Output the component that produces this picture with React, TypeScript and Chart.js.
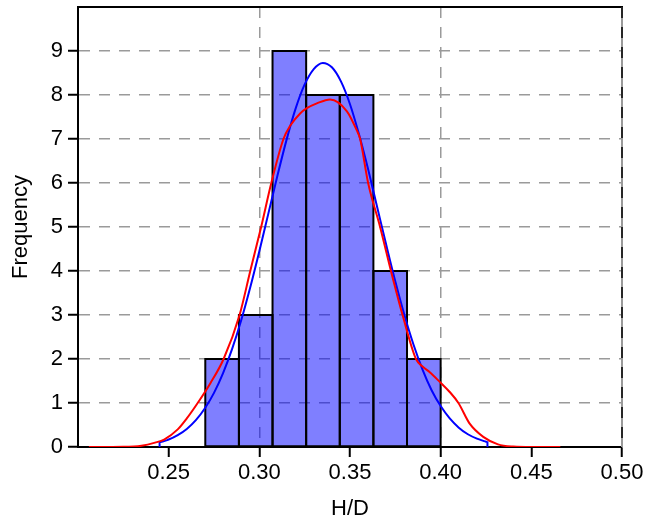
import React, { useEffect, useRef } from 'react';
import { Chart, registerables } from 'chart.js';

Chart.register(...registerables);

// Histogram bins (centers of equal-width bins) and counts
const binCenters = [0.27947, 0.29801, 0.31655, 0.33509, 0.35363, 0.37217, 0.39071];
const binCounts = [2, 3, 9, 8, 8, 4, 2];

// Fitted normal curve (blue)
const normalX = [0.245, 0.245, 0.25, 0.255, 0.26, 0.265, 0.27, 0.275, 0.28, 0.285, 0.29, 0.295, 0.3, 0.305, 0.31, 0.315, 0.32, 0.325, 0.33, 0.335, 0.34, 0.345, 0.35, 0.355, 0.36, 0.365, 0.37, 0.375, 0.38, 0.385, 0.39, 0.395, 0.4, 0.405, 0.41, 0.415, 0.42, 0.425, 0.4258, 0.4258];
const normalY = [0, 0.11, 0.17, 0.27, 0.41, 0.61, 0.88, 1.23, 1.68, 2.23, 2.88, 3.63, 4.45, 5.31, 6.17, 6.98, 7.69, 8.24, 8.59, 8.73, 8.63, 8.31, 7.79, 7.10, 6.31, 5.45, 4.59, 3.76, 3.0, 2.33, 1.76, 1.29, 0.93, 0.65, 0.44, 0.29, 0.19, 0.12, 0.11, 0];

// Kernel density curve (red)
const kdeX = [0.206, 0.225, 0.235, 0.2425, 0.2475, 0.255, 0.26, 0.266, 0.273, 0.2803, 0.2891, 0.295, 0.301, 0.3066, 0.3133, 0.317, 0.3225, 0.3262, 0.3317, 0.339, 0.3483, 0.3537, 0.3556, 0.36, 0.3666, 0.3726, 0.379, 0.3864, 0.3903, 0.394, 0.3995, 0.405, 0.4098, 0.416, 0.4235, 0.4316, 0.44, 0.45, 0.466];
const kdeY = [0, 0.005, 0.03, 0.1, 0.17, 0.4, 0.65, 1.0, 1.45, 2.0, 3.0, 4.0, 5.0, 6.0, 7.0, 7.3, 7.58, 7.7, 7.81, 7.9, 7.63, 7.2, 7.0, 6.0, 5.0, 4.0, 3.0, 2.0, 1.82, 1.7, 1.48, 1.25, 1.0, 0.53, 0.23, 0.06, 0.01, 0, 0];

const xMin = 0.2;
const xMax = 0.5;
const xStep = 0.05;
const yMax = 10;
const yTopTick = 9;
const xTitle = 'H/D';
const yTitle = 'Frequency';

const GRID = '#9a9a9a';
const DASH = [11, 9];
const FONT_SIZE = 22;

const framePlugin = {
  id: 'frame',
  afterDatasetDraw(chart: any, args: any) {
    if (args.meta.type !== 'bar') return;
    const { ctx } = chart;
    ctx.save();
    ctx.strokeStyle = '#000';
    ctx.lineWidth = 2;
    for (const el of args.meta.data) {
      const p = el.getProps(['x', 'y', 'base', 'width'], true);
      ctx.strokeRect(p.x - p.width / 2, p.y, p.width, p.base - p.y);
    }
    ctx.restore();
  },
  afterDatasetsDraw(chart: any) {
    const { ctx, chartArea: a } = chart;
    ctx.save();
    ctx.strokeStyle = '#000';
    ctx.lineWidth = 2;
    ctx.beginPath();
    ctx.moveTo(a.left - 1, a.top);
    ctx.lineTo(a.right + 1, a.top);
    ctx.stroke();
    ctx.strokeStyle = GRID;
    ctx.lineWidth = 2;
    ctx.beginPath();
    ctx.moveTo(a.right, a.top);
    ctx.lineTo(a.right, a.bottom);
    ctx.stroke();
    ctx.setLineDash(DASH);
    ctx.strokeStyle = '#000';
    ctx.lineWidth = 1.5;
    ctx.beginPath();
    ctx.moveTo(a.right, a.top);
    ctx.lineTo(a.right, a.bottom);
    ctx.stroke();
    ctx.restore();
  },
};

export default function App() {
  const ref = useRef<HTMLCanvasElement | null>(null);
  useEffect(() => {
    if (!ref.current) return;
    Chart.defaults.font.family = "Arial, 'Liberation Sans', Helvetica, sans-serif";
    Chart.defaults.color = '#000';
    const isTenth = (v: number) => Math.abs(v * 10 - Math.round(v * 10)) < 1e-6;
    const chart = new Chart(ref.current, {
      type: 'bar',
      data: {
        datasets: [
          {
            type: 'line',
            label: 'KDE',
            data: kdeX.map((x, i) => ({ x, y: kdeY[i] })),
            borderColor: '#ff0000',
            borderWidth: 2,
            pointRadius: 0,
            cubicInterpolationMode: 'monotone',
            fill: false,
          } as any,
          {
            type: 'line',
            label: 'Normal',
            data: normalX.map((x, i) => ({ x, y: normalY[i] })),
            borderColor: '#0000ff',
            borderWidth: 2,
            pointRadius: 0,
            cubicInterpolationMode: 'monotone',
            fill: false,
          } as any,
          {
            type: 'bar',
            label: 'Counts',
            data: binCenters.map((x, i) => ({ x, y: binCounts[i] })),
            backgroundColor: 'rgba(0,0,255,0.5)',
            borderWidth: 0,
            barPercentage: 1,
            categoryPercentage: 1,
            inflateAmount: 0,
          } as any,
        ],
      },
      options: {
        animation: false,
        responsive: false,
        devicePixelRatio: 1,
        layout: { padding: { top: 7, right: 24, left: 0, bottom: 0 } },
        plugins: { legend: { display: false }, tooltip: { enabled: false } },
        scales: {
          x: {
            type: 'linear',
            min: xMin,
            max: xMax,
            offset: false,
            afterBuildTicks: (s: any) => {
              s.ticks = s.ticks.filter((t: any) => t.value > xMin + 0.01);
            },
            afterFit: (s: any) => {
              s.height = 77;
              s.paddingLeft = 0;
              s.paddingRight = 0;
            },
            ticks: {
              stepSize: xStep,
              autoSkip: false,
              maxRotation: 0,
              padding: 3,
              font: { size: FONT_SIZE },
              color: '#000',
              callback: (v: any) => Number(v).toFixed(2),
            },
            grid: {
              offset: false,
              color: (c: any) => (c.tick && isTenth(c.tick.value) ? GRID : 'transparent'),
              lineWidth: 1.5,
              tickColor: '#000',
              tickWidth: 2,
              tickLength: 10,
              tickBorderDash: [],
            },
            border: { color: '#000', width: 2, dash: DASH },
            title: { display: true, text: xTitle, font: { size: FONT_SIZE }, color: '#000', padding: { top: 0, bottom: 2 } },
          },
          y: {
            type: 'linear',
            min: 0,
            max: yMax,
            afterBuildTicks: (s: any) => {
              s.ticks = s.ticks.filter((t: any) => t.value <= yTopTick);
            },
            afterFit: (s: any) => {
              s.width = 78;
              s.paddingTop = 0;
              s.paddingBottom = 0;
            },
            ticks: { stepSize: 1, padding: 5, font: { size: FONT_SIZE }, color: '#000' },
            grid: {
              color: (c: any) => (c.tick && c.tick.value > 0 ? GRID : 'transparent'),
              lineWidth: 1.5,
              tickColor: '#000',
              tickWidth: 2,
              tickLength: 10,
              tickBorderDash: [],
            },
            border: { color: '#000', width: 2, dash: DASH },
            title: { display: true, text: yTitle, font: { size: FONT_SIZE }, color: '#000', padding: { top: 8, bottom: 0 } },
          },
        },
      } as any,
      plugins: [framePlugin],
    });
    return () => chart.destroy();
  }, []);
  return (
    <div style={{ position: 'absolute', left: 0, top: 0, width: 646, height: 524, background: '#fff' }}>
      <canvas ref={ref} width={646} height={524} />
    </div>
  );
}
